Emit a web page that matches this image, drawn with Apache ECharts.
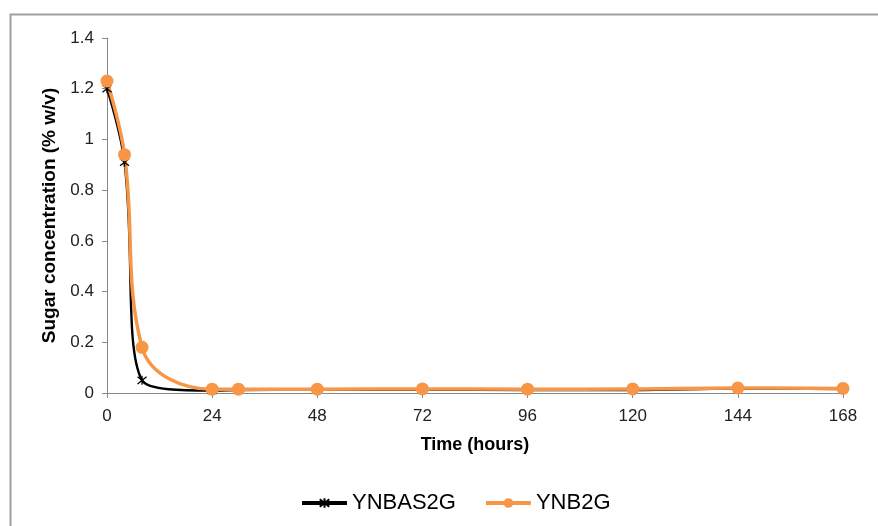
<!DOCTYPE html>
<html><head><meta charset="utf-8">
<script src="https://cdn.jsdelivr.net/npm/echarts@6/dist/echarts.min.js"></script>
<style>html,body{margin:0;padding:0;background:#fff}#c{width:878px;height:526px}</style>
</head><body><div id="c"></div>
<script>
const hours = [0, 4, 8, 24, 30, 48, 72, 96, 120, 144, 168];
const ynbas2g = [1.20, 0.91, 0.05, 0.010, 0.012, 0.013, 0.013, 0.012, 0.012, 0.018, 0.016];
const ynb2g = [1.23, 0.94, 0.18, 0.015, 0.015, 0.015, 0.016, 0.015, 0.016, 0.020, 0.018];
const xTicks = [0, 24, 48, 72, 96, 120, 144, 168];
const yTicks = [0, 0.2, 0.4, 0.6, 0.8, 1, 1.2, 1.4];

const chart = echarts.init(document.getElementById('c'));
const font = 'Liberation Sans, Arial, sans-serif';
const star = 'path://M0,-10 L0,10 M-8,-8 L8,8 M-8,8 L8,-8 M0,-10 Z';
chart.setOption({
  animation: false,
  graphic: [{type:'rect', shape:{x:10.5, y:14.5, width:900, height:600}, style:{fill:'none', stroke:'#a0a0a0', lineWidth:2}}],
  grid: {left:107, right:35, top:38, bottom:133},
  xAxis: {
    type:'value', min:0, max:168, interval:24,
    name:'Time (hours)', nameLocation:'middle', nameGap:43,
    nameTextStyle:{fontFamily:font, fontWeight:'bold', fontSize:18, color:'#000'},
    axisLine:{lineStyle:{color:'#888', width:1}},
    axisTick:{show:true, length:5, lineStyle:{color:'#888'}},
    axisLabel:{fontFamily:font, fontSize:17, color:'#222', margin:15, formatter: v => xTicks.includes(v) ? String(v) : ''},
    splitLine:{show:false}
  },
  yAxis: {
    type:'value', min:0, max:1.4, interval:0.2,
    name:'Sugar concentration (% w/v)', nameLocation:'middle', nameGap:45, nameRotate:90,
    nameTextStyle:{fontFamily:font, fontWeight:'bold', fontSize:19, color:'#000'},
    axisLine:{show:true, lineStyle:{color:'#888', width:1}},
    axisTick:{show:true, length:5, lineStyle:{color:'#888'}},
    axisLabel:{fontFamily:font, fontSize:17, color:'#222', margin:13,
      formatter: v => { const t = yTicks.find(y => Math.abs(y - v) < 1e-6); return t === undefined ? '' : String(t); }},
    splitLine:{show:false}
  },
  legend: {
    top:487, left:295, itemGap:28, itemWidth:45, itemHeight:12,
    lineStyle:{width:4},
    textStyle:{fontFamily:font, fontSize:22, color:'#000'},
    data:['YNBAS2G','YNB2G']
  },
  series: [
    {name:'YNBAS2G', type:'line', smooth:0.4, data: hours.map((h,i)=>[h, ynbas2g[i]]),
     symbol: star, symbolSize:9,
     lineStyle:{color:'#000', width:2.4},
     itemStyle:{color:'#000', borderColor:'#000', borderWidth:1.3}},
    {name:'YNB2G', type:'line', smooth:0.4, data: hours.map((h,i)=>[h, ynb2g[i]]),
     symbol:'circle', symbolSize:13,
     lineStyle:{color:'#F79646', width:3.5},
     itemStyle:{color:'#F79646', borderWidth:0}}
  ]
});
</script></body></html>
